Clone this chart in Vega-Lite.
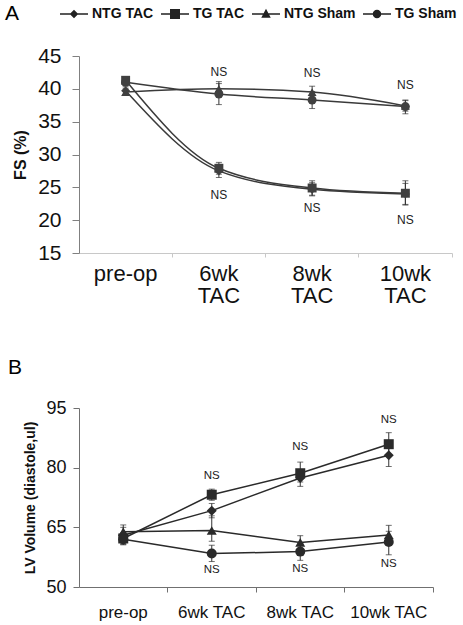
{
  "$schema": "https://vega.github.io/schema/vega-lite/v6.json",
  "padding": {"left": 5, "top": 3, "right": 5, "bottom": 5},
  "background": "white",
  "bounds": "flush",
  "spacing": 155,
  "config": {
    "font": "Liberation Sans",
    "view": {"stroke": null},
    "title": {"font": "Liberation Sans", "fontWeight": "normal", "fontSize": 21, "anchor": "start", "frame": "group", "color": "#000", "baseline": "alphabetic"}
  },
  "datasets": {
    "fs": [
      {"series": "NTG TAC", "time": "pre-op", "v": 39.7, "lo": 39.1, "hi": 40.3},
      {"series": "NTG TAC", "time": "6wk TAC", "v": 27.5, "lo": 26.5, "hi": 28.5},
      {"series": "NTG TAC", "time": "8wk TAC", "v": 24.7, "lo": 23.7, "hi": 25.7},
      {"series": "NTG TAC", "time": "10wk TAC", "v": 24.0, "lo": 22.4, "hi": 25.6},
      {"series": "TG TAC", "time": "pre-op", "v": 41.3, "lo": 40.8, "hi": 41.8},
      {"series": "TG TAC", "time": "6wk TAC", "v": 27.9, "lo": 27.0, "hi": 28.8},
      {"series": "TG TAC", "time": "8wk TAC", "v": 24.9, "lo": 23.8, "hi": 26.0},
      {"series": "TG TAC", "time": "10wk TAC", "v": 24.1, "lo": 22.3, "hi": 26.0},
      {"series": "NTG Sham", "time": "pre-op", "v": 39.5, "lo": 39.0, "hi": 40.0},
      {"series": "NTG Sham", "time": "6wk TAC", "v": 40.0, "lo": 38.9, "hi": 41.1},
      {"series": "NTG Sham", "time": "8wk TAC", "v": 39.5, "lo": 38.6, "hi": 40.4},
      {"series": "NTG Sham", "time": "10wk TAC", "v": 37.4, "lo": 36.6, "hi": 38.2},
      {"series": "TG Sham", "time": "pre-op", "v": 41.0, "lo": 40.5, "hi": 41.5},
      {"series": "TG Sham", "time": "6wk TAC", "v": 39.2, "lo": 37.6, "hi": 40.8},
      {"series": "TG Sham", "time": "8wk TAC", "v": 38.3, "lo": 37.0, "hi": 39.6},
      {"series": "TG Sham", "time": "10wk TAC", "v": 37.3, "lo": 36.2, "hi": 38.3}
    ],
    "lv": [
      {"series": "NTG TAC", "time": "pre-op", "v": 63.0, "lo": 61.0, "hi": 65.0},
      {"series": "NTG TAC", "time": "6wk TAC", "v": 69.2, "lo": 67.4, "hi": 71.0},
      {"series": "NTG TAC", "time": "8wk TAC", "v": 77.4, "lo": 75.3, "hi": 79.5},
      {"series": "NTG TAC", "time": "10wk TAC", "v": 83.1, "lo": 80.3, "hi": 85.9},
      {"series": "TG TAC", "time": "pre-op", "v": 62.2, "lo": 60.7, "hi": 63.7},
      {"series": "TG TAC", "time": "6wk TAC", "v": 73.2, "lo": 71.8, "hi": 74.6},
      {"series": "TG TAC", "time": "8wk TAC", "v": 78.6, "lo": 76.4, "hi": 81.4},
      {"series": "TG TAC", "time": "10wk TAC", "v": 85.9, "lo": 83.0, "hi": 88.8},
      {"series": "NTG Sham", "time": "pre-op", "v": 63.9, "lo": 62.0, "hi": 65.6},
      {"series": "NTG Sham", "time": "6wk TAC", "v": 64.2, "lo": 61.5, "hi": 67.9},
      {"series": "NTG Sham", "time": "8wk TAC", "v": 61.2, "lo": 59.5, "hi": 62.9},
      {"series": "NTG Sham", "time": "10wk TAC", "v": 63.1, "lo": 60.8, "hi": 65.5},
      {"series": "TG Sham", "time": "pre-op", "v": 62.0, "lo": 60.6, "hi": 63.4},
      {"series": "TG Sham", "time": "6wk TAC", "v": 58.4, "lo": 56.4, "hi": 60.5},
      {"series": "TG Sham", "time": "8wk TAC", "v": 58.9, "lo": 56.7, "hi": 61.0},
      {"series": "TG Sham", "time": "10wk TAC", "v": 61.3, "lo": 58.1, "hi": 64.0}
    ],
    "nsA": [
      {"time": "6wk TAC", "y": 42.6},
      {"time": "8wk TAC", "y": 42.4},
      {"time": "10wk TAC", "y": 40.6},
      {"time": "6wk TAC", "y": 23.8},
      {"time": "8wk TAC", "y": 21.9},
      {"time": "10wk TAC", "y": 20.0}
    ],
    "nsB": [
      {"time": "6wk TAC", "y": 78.0},
      {"time": "8wk TAC", "y": 85.3},
      {"time": "10wk TAC", "y": 92.1},
      {"time": "6wk TAC", "y": 54.3},
      {"time": "8wk TAC", "y": 54.6},
      {"time": "10wk TAC", "y": 55.9}
    ]
  },
  "resolve": {"scale": {"shape": "independent"}, "legend": {"shape": "independent"}},
  "vconcat": [
    {
      "title": {"text": "A", "dx": -74, "offset": -17},
      "width": 373,
      "height": 197,
      "resolve": {"scale": {"shape": "independent"}, "legend": {"shape": "independent"}},
      "encoding": {
        "x": {
          "field": "time", "type": "nominal", "sort": ["pre-op", "6wk TAC", "8wk TAC", "10wk TAC"],
          "scale": {"type": "band", "paddingInner": 0, "paddingOuter": 0},
          "axis": {
            "title": null, "bandPosition": 1, "labelAngle": 0,
            "labelFontSize": 22, "labelColor": "#111", "labelPadding": 6, "labelBaseline": "top", "labelLineHeight": 22,
            "labelExpr": "split(datum.label, ' ')",
            "domainColor": "#c8c8c8", "tickColor": "#c8c8c8", "tickSize": 4, "labelFlush": false, "labelOverlap": false
          }
        },
        "y": {"type": "quantitative", "scale": {"domain": [15, 45], "zero": false, "nice": false},
          "axis": {"title": "FS (%)", "titleFontSize": 16, "titleFontWeight": "bold", "titleColor": "#111", "titlePadding": 9,
            "values": [15, 20, 25, 30, 35, 40, 45], "labelFontSize": 21, "labelColor": "#111", "labelPadding": 11, "tickSize": 7,
            "domainColor": "#808080", "tickColor": "#808080", "grid": false}}
      },
      "layer": [
        {
          "data": {"name": "fs"},
          "mark": {"type": "errorbar", "ticks": {"size": 6}, "color": "#333", "thickness": 1},
          "encoding": {
            "y": {"field": "lo", "type": "quantitative", "scale": {"domain": [15, 45], "zero": false, "nice": false}},
            "y2": {"field": "hi"},
            "detail": {"field": "series"}
          }
        },
        {
          "data": {"name": "fs"},
          "mark": {"type": "line", "interpolate": "monotone", "color": "#3a3a3a", "strokeWidth": 1.5},
          "encoding": {"y": {"field": "v"}, "detail": {"field": "series"}}
        },
        {
          "data": {"name": "fs"},
          "mark": {"type": "point", "filled": true, "color": "#404040", "opacity": 1},
          "encoding": {
            "y": {"field": "v"},
            "shape": {"field": "series", "type": "nominal",
              "scale": {"domain": ["NTG TAC", "TG TAC", "NTG Sham", "TG Sham"], "range": ["diamond", "square", "triangle-up", "circle"]},
              "legend": null},
            "size": {"value": 80}
          }
        },
        {
          "data": {"name": "fs"},
          "transform": [{"filter": "datum.v < 0"}],
          "mark": {"type": "point", "filled": true, "color": "#222", "opacity": 1},
          "encoding": {
            "y": {"field": "v"},
            "shape": {"field": "series", "type": "nominal",
              "scale": {"domain": ["NTG TAC", "TG TAC", "NTG Sham", "TG Sham"],
                "range": ["M-2.8,-0.15H2.8V0.15H-2.8ZM0,-0.85L0.85,0L0,0.85L-0.85,0Z", "M-2.8,-0.15H2.8V0.15H-2.8ZM-1,-1H1V1H-1Z", "M-2.8,-0.15H2.8V0.15H-2.8ZM0,-1.05L0.95,0.75L-0.95,0.75Z", "M-2.8,-0.15H2.8V0.15H-2.8ZM0.85,0A0.85,0.85,0,1,1,-0.85,0A0.85,0.85,0,1,1,0.85,0Z"]},
              "legend": {
                "title": null, "orient": "none", "direction": "horizontal", "legendX": -12, "legendY": -49, "padding": 0,
                "symbolSize": 100, "labelFontSize": 14, "labelFontWeight": "bold", "labelColor": "#111", "labelOffset": 11,
                "columnPadding": 7, "symbolStrokeWidth": 0, "symbolFillColor": "#222", "symbolOpacity": 1
              }
            },
            "size": {"value": 100}
          }
        },
        {
          "data": {"name": "nsA"},
          "mark": {"type": "text", "fontSize": 12, "color": "#222", "baseline": "middle"},
          "encoding": {"y": {"field": "y"}, "text": {"value": "NS"}}
        }
      ]
    },
    {
      "title": {"text": "B", "dx": -71, "offset": 21},
      "width": 354,
      "height": 179,
      "encoding": {
        "x": {
          "field": "time", "type": "nominal", "sort": ["pre-op", "6wk TAC", "8wk TAC", "10wk TAC"],
          "scale": {"type": "band", "paddingInner": 0, "paddingOuter": 0},
          "axis": {
            "title": null, "bandPosition": 1, "labelAngle": 0,
            "labelFontSize": 17, "labelColor": "#111", "labelPadding": 12,
            "domainColor": "#707070", "tickColor": "#707070", "tickSize": 5, "labelFlush": false, "labelOverlap": false
          }
        },
        "y": {"type": "quantitative", "scale": {"domain": [50, 95], "zero": false, "nice": false},
          "axis": {"title": "LV Volume (diastole,ul)", "titleFontSize": 14, "titleFontWeight": "bold", "titleColor": "#111", "titlePadding": 8,
            "values": [50, 65, 80, 95], "labelFontSize": 18, "labelColor": "#111", "labelPadding": 7, "tickSize": 6,
            "domainColor": "#707070", "tickColor": "#707070", "grid": false}}
      },
      "layer": [
        {
          "data": {"name": "lv"},
          "mark": {"type": "errorbar", "ticks": {"size": 6}, "color": "#333", "thickness": 1},
          "encoding": {
            "y": {"field": "lo", "type": "quantitative", "scale": {"domain": [50, 95], "zero": false, "nice": false}},
            "y2": {"field": "hi"},
            "detail": {"field": "series"}
          }
        },
        {
          "data": {"name": "lv"},
          "mark": {"type": "line", "color": "#2a2a2a", "strokeWidth": 1.5},
          "encoding": {"y": {"field": "v"}, "detail": {"field": "series"}}
        },
        {
          "data": {"name": "lv"},
          "mark": {"type": "point", "filled": true, "color": "#2a2a2a", "opacity": 1},
          "encoding": {
            "y": {"field": "v"},
            "shape": {"field": "series", "type": "nominal",
              "scale": {"domain": ["NTG TAC", "TG TAC", "NTG Sham", "TG Sham"], "range": ["diamond", "square", "triangle-up", "circle"]},
              "legend": null},
            "size": {"value": 100}
          }
        },
        {
          "data": {"name": "nsB"},
          "mark": {"type": "text", "fontSize": 11.5, "color": "#222", "baseline": "middle"},
          "encoding": {"y": {"field": "y"}, "text": {"value": "NS"}}
        }
      ]
    }
  ]
}
